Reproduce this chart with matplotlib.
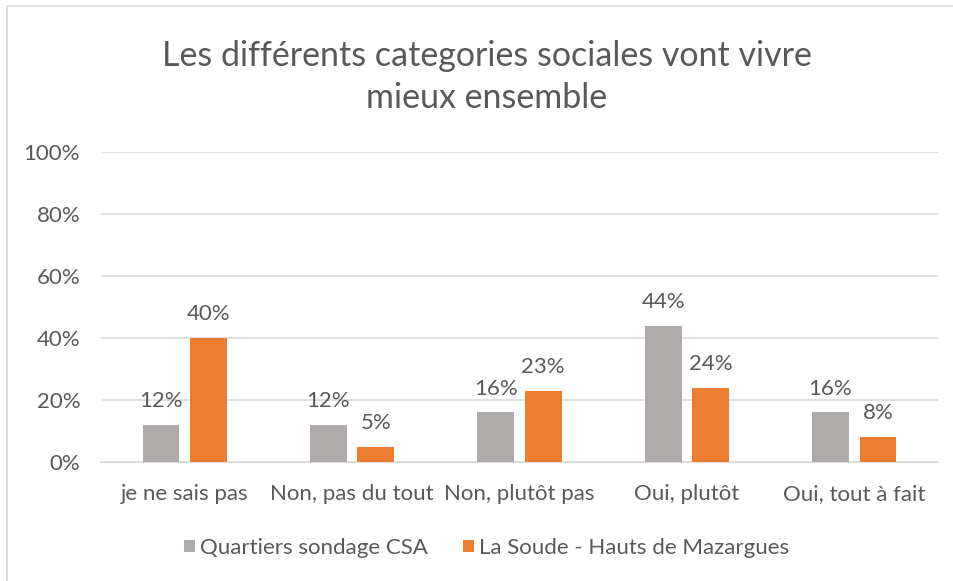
import matplotlib
matplotlib.use("Agg")
import matplotlib.pyplot as plt
import numpy as np
from matplotlib.patches import Rectangle

categories = ["je ne sais pas", "Non, pas du tout", "Non, plutôt pas", "Oui, plutôt", "Oui, tout à fait"]
series_names = ["Quartiers sondage CSA", "La Soude - Hauts de Mazargues"]
csa_values = [12, 12, 16, 44, 16]
soude_values = [40, 5, 23, 24, 8]
y_ticks = [0, 20, 40, 60, 80, 100]

GRAY = "#AEAAAA"
ORANGE = "#ED7D31"
TEXT = "#595959"

plt.rcParams["font.family"] = ["Lato", "DejaVu Sans"]

fig = plt.figure(figsize=(9.54, 5.81), dpi=100)
ax = fig.add_axes([101 / 954, 1 - 462 / 581, (938 - 101) / 954, (462 - 152) / 581])

x = np.arange(len(categories))
width = 0.22
offset = 0.142
b1 = ax.bar(x - offset, csa_values, width, color=GRAY, label=series_names[0], zorder=3)
b2 = ax.bar(x + offset, soude_values, width, color=ORANGE, label=series_names[1], zorder=3)

for bars in (b1, b2):
    for rect in bars:
        h = rect.get_height()
        ax.annotate(f"{h:.0f}%", (rect.get_x() + rect.get_width() / 2, h),
                    textcoords="offset points", xytext=(0, 10), ha="center", va="bottom",
                    fontsize=16, color=TEXT)

ax.set_xlim(-0.5, len(categories) - 0.5)
ax.set_ylim(0, 100)
ax.set_yticks(y_ticks)
ax.set_yticklabels([f"{t}%" for t in y_ticks])
ax.set_xticks(x)
ax.set_xticklabels(categories)
ax.tick_params(axis="both", length=0, labelsize=16, labelcolor=TEXT)
ax.tick_params(axis="y", pad=15)
ax.tick_params(axis="x", pad=16)
ax.grid(True, axis="y", color="#D9D9D9", linewidth=1.2, zorder=0)
for side in ("top", "right", "left"):
    ax.spines[side].set_visible(False)
ax.spines["bottom"].set_color("#D9D9D9")
ax.spines["bottom"].set_linewidth(1.2)

fig.text(0.51, 1 - 77 / 581, "Les différents categories sociales vont vivre\nmieux ensemble",
         ha="center", va="center", fontsize=24.5, color=TEXT, linespacing=1.38)

fig.legend(handles=[b1, b2], labels=series_names, loc="center", bbox_to_anchor=(0.51, 1 - 548 / 581),
           ncol=2, frameon=False, fontsize=16, labelcolor=TEXT, handlelength=0.5, handleheight=0.5,
           handletextpad=0.2, columnspacing=1.6)

# chart frame
fig.patches.append(Rectangle((7 / 954, -0.01), 1.1, 1 - 6 / 581 + 0.01, transform=fig.transFigure,
                             fill=False, edgecolor="#D9D9D9", linewidth=1.2))

fig.savefig("out.png", dpi=100)
